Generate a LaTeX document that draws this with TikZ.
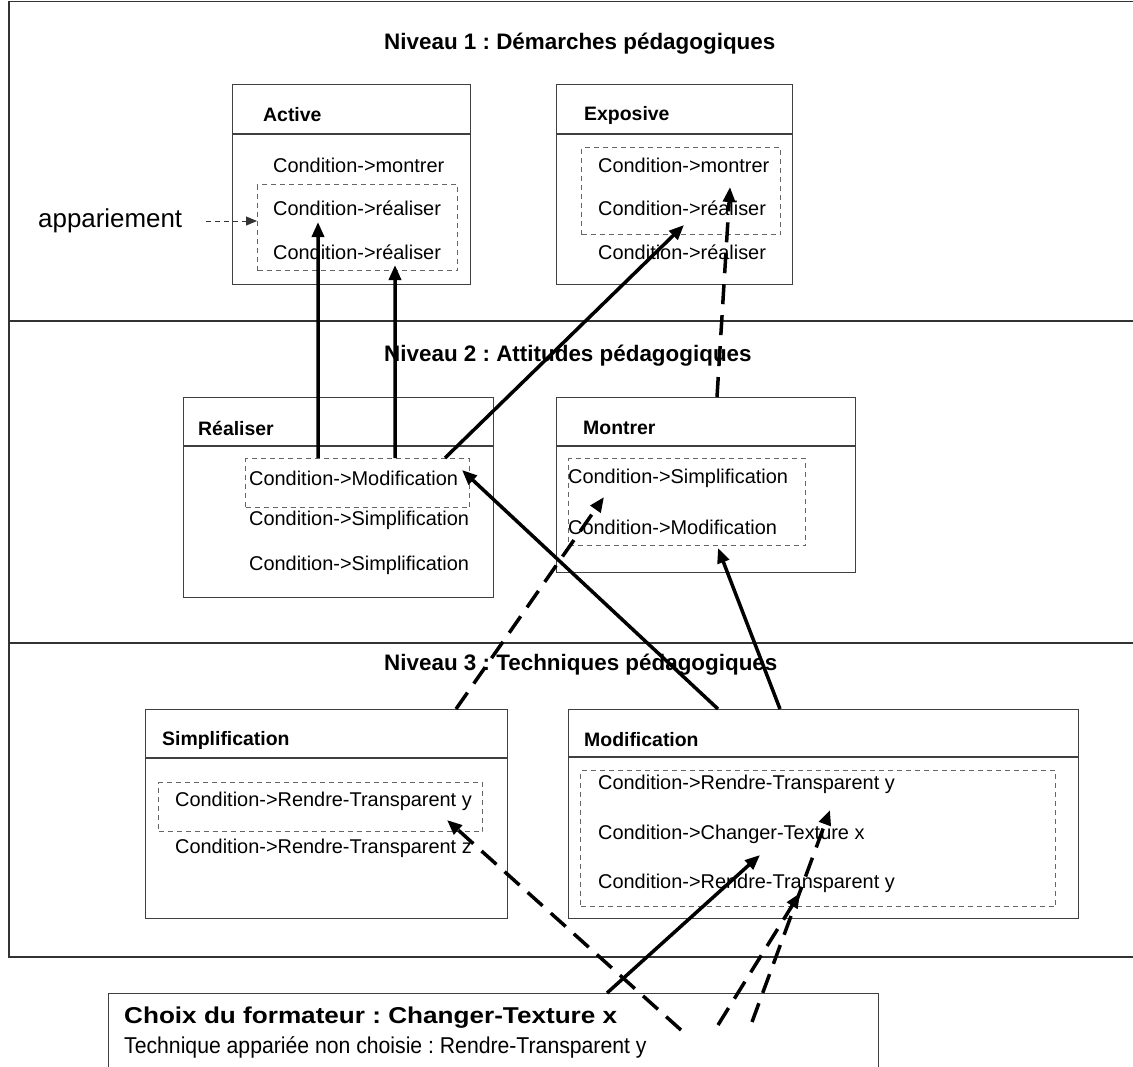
\documentclass[tikz,border=0pt]{standalone}
\usepackage{fontspec}
\setmainfont{Liberation Sans}
\usetikzlibrary{arrows.meta, positioning, calc}
\frenchspacing

\begin{document}
\begin{tikzpicture}[x=1bp, y=-1bp,
    classbox/.style={draw=black!75, line width=1.1bp, anchor=north west, inner sep=0pt},
    pairbox/.style={draw=black!60, line width=1bp, dash pattern=on 5bp off 4bp, anchor=north west, inner sep=0pt},
    boxtitle/.style={anchor=west, inner sep=0pt, font=\fontsize{19.5}{24}\selectfont\bfseries},
    item/.style={anchor=west, inner sep=0pt, font=\fontsize{20}{24}\selectfont},
    level/.style={anchor=west, inner sep=0pt, font=\fontsize{22.5}{27}\selectfont\bfseries},
    link/.style={line width=3.5bp, -{Triangle[length=15bp, width=12bp]}},
    alt/.style={link, dash pattern=on 20bp off 11bp}
]
    \useasboundingbox[fill=white] (0,0) rectangle (1133,1067);

    % Frame with the three levels
    \draw[black!80, line width=1.1bp] (1133,1.5) -- (9,1.5) -- (9,957) -- (1133,957);
    \draw[black!80, line width=1.1bp] (9,321) -- (1133,321);
    \draw[black!80, line width=1.1bp] (9,643) -- (1133,643);

    \node[level] (niv1) at (384,44) {Niveau 1 : Démarches pédagogiques};
    \node[level] (niv2) at (384,356) {Niveau 2 : Attitudes pédagogiques};
    \node[level] (niv3) at (384,665) {Niveau 3 : Techniques pédagogiques};

    % Level 1
    \node[classbox, minimum width=238bp, minimum height=200bp] (active) at (232,84) {};
    \draw[black!75, line width=1.1bp] ([yshift=-50bp]active.north west) -- ([yshift=-50bp]active.north east);
    \node[boxtitle] (activet) at (263,115) {Active};
    \node[pairbox, minimum width=200bp, minimum height=86bp] (activep) at (257,184) {};
    \node[item] (act1) at (273,165) {Condition->montrer};
    \node[item] (act2) at (273,208) {Condition->réaliser};
    \node[item] (act3) at (273,252) {Condition->réaliser};

    \node[classbox, minimum width=236bp, minimum height=200bp] (expo) at (556,84) {};
    \draw[black!75, line width=1.1bp] ([yshift=-50bp]expo.north west) -- ([yshift=-50bp]expo.north east);
    \node[boxtitle] (expot) at (584,115) {Exposive};
    \node[pairbox, minimum width=199bp, minimum height=87bp] (expop) at (581,147) {};
    \node[item] (exp1) at (598,165) {Condition->montrer};
    \node[item] (exp2) at (598,208) {Condition->réaliser};
    \node[item] (exp3) at (598,252) {Condition->réaliser};

    \node[inner sep=0pt, anchor=west, font=\fontsize{26}{30}\selectfont] (appar) at (38,221) {appariement};
    \draw[black!80, line width=1bp, dash pattern=on 5bp off 4bp, -{Triangle[length=11bp, width=9bp]}]
        ([xshift=24bp]appar.east) -- (appar.east -| activep.west);

    % Level 2
    \node[classbox, minimum width=310bp, minimum height=200bp] (real) at (183,397) {};
    \draw[black!75, line width=1.1bp] ([yshift=-49bp]real.north west) -- ([yshift=-49bp]real.north east);
    \node[boxtitle] (realt) at (198,428) {Réaliser};
    \node[pairbox, minimum width=224bp, minimum height=49bp] (realp) at (245,458) {};
    \node[item] (rea1) at (249,478) {Condition->Modification};
    \node[item] (rea2) at (249,520) {Condition->Simplification};
    \node[item] (rea3) at (249,565) {Condition->Simplification};

    \node[classbox, minimum width=299bp, minimum height=175bp] (montr) at (556,397) {};
    \draw[black!75, line width=1.1bp] ([yshift=-49bp]montr.north west) -- ([yshift=-49bp]montr.north east);
    \node[boxtitle] (montrt) at (583,428) {Montrer};
    \node[pairbox, minimum width=237bp, minimum height=87bp] (montrp) at (568,458) {};
    \node[item] (mon1) at (568,478) {Condition->Simplification};
    \node[item] (mon2) at (568,527) {Condition->Modification};

    % Level 3
    \node[classbox, minimum width=362bp, minimum height=209bp] (simpl) at (145,709) {};
    \draw[black!75, line width=1.1bp] ([yshift=-49bp]simpl.north west) -- ([yshift=-49bp]simpl.north east);
    \node[boxtitle] (simplt) at (162,740) {Simplification};
    \node[pairbox, minimum width=324bp, minimum height=49bp] (simplp) at (158,782) {};
    \node[item] (sim1) at (175,801) {Condition->Rendre-Transparent y};
    \node[item] (sim2) at (175,848) {Condition->Rendre-Transparent z};

    \node[classbox, minimum width=510bp, minimum height=209bp] (modif) at (568,709) {};
    \draw[black!75, line width=1.1bp] ([yshift=-48bp]modif.north west) -- ([yshift=-48bp]modif.north east);
    \node[boxtitle] (modift) at (584,740) {Modification};
    \node[pairbox, minimum width=475bp, minimum height=136bp] (modifp) at (580,770) {};
    \node[item] (mod1) at (598,784) {Condition->Rendre-Transparent y};
    \node[item] (mod2) at (598,834) {Condition->Changer-Texture x};
    \node[item] (mod3) at (598,883) {Condition->Rendre-Transparent y};

    % Choice of the trainer
    \node[draw=black!75, line width=1.1bp, anchor=north west, inner sep=0pt, minimum width=770bp, minimum height=90bp] (choix) at (108,993) {};
    \node[anchor=west, inner sep=0pt, font=\fontsize{23}{28}\selectfont\bfseries] (choix1) at (124,1018)
        {\scalebox{1.14}[1]{Choix du formateur : Changer-Texture x}};
    \node[anchor=west, inner sep=0pt, font=\fontsize{23}{28}\selectfont] (choix2) at (124,1047)
        {\scalebox{0.925}[1]{Technique appariée non choisie : Rendre-Transparent y}};

    % Arrow ends
    \coordinate (tipa) at (318,222);
    \coordinate (tipb) at (395,265);
    \coordinate (tipc) at (684,225);
    \coordinate (tipd) at (730,187);
    \coordinate (tipe) at (462,470);
    \coordinate (tipf) at (718,548);
    \coordinate (tipg) at (604,497);
    \coordinate (tiph) at (760,855);
    \coordinate (tipi) at (447,820);
    \coordinate (tipj) at (800,893);
    \coordinate (tipk) at (830,810);
    \coordinate (srci) at (681,1030);
    \coordinate (srcj) at (718,1025);
    \coordinate (srck) at (752,1022);

    % Links
    \draw[link] ([xshift=73bp]realp.north west) -- (tipa);
    \draw[link] ([xshift=150bp]realp.north west) -- (tipb);
    \draw[link] ([xshift=200bp]realp.north west) -- (tipc);
    \draw[alt] ([xshift=161bp]montr.north west) -- (tipd);
    \draw[link] ([xshift=150bp]modif.north west) -- (tipe);
    \draw[link] ([xshift=212bp]modif.north west) -- (tipf);
    \draw[alt] ([xshift=311bp]simpl.north west) -- (tipg);
    \draw[link] ([xshift=499bp]choix.north west) -- (tiph);
    \draw[alt] (srci) -- (tipi);
    \draw[alt] (srcj) -- (tipj);
    \draw[alt] (srck) -- (tipk);
\end{tikzpicture}
\end{document}
